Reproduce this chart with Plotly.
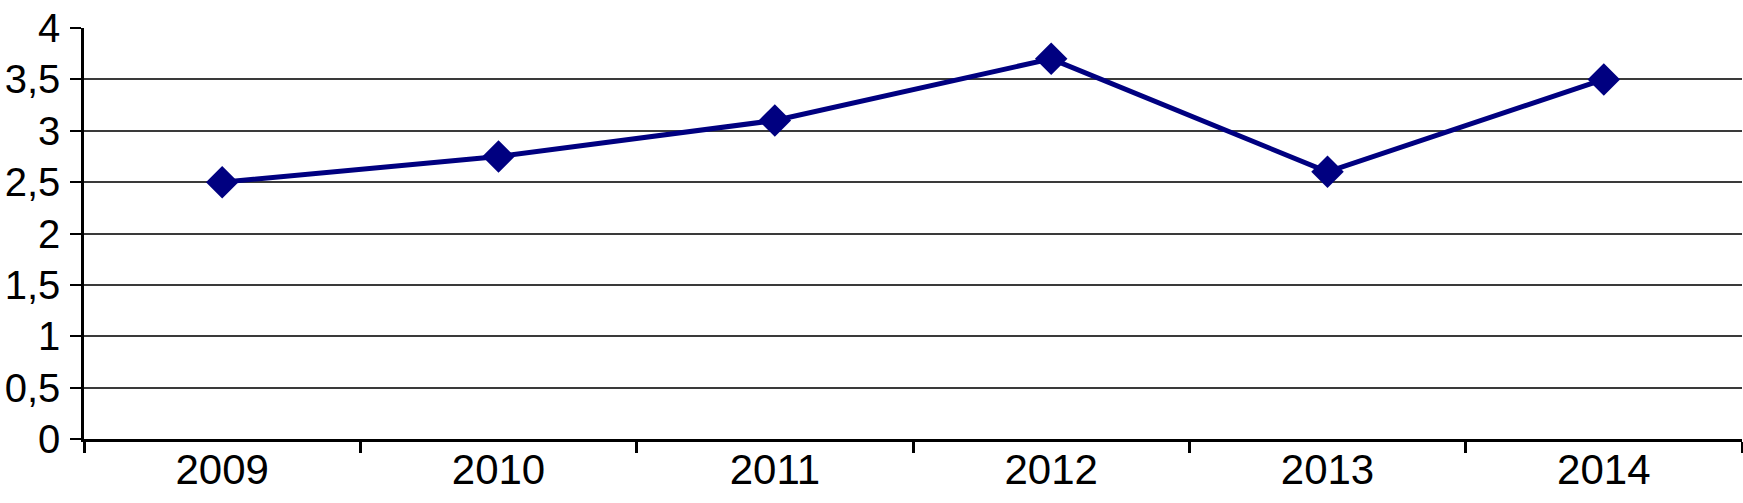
import plotly.graph_objects as go

years = ["2009", "2010", "2011", "2012", "2013", "2014"]
values = [2.5, 2.75, 3.1, 3.7, 2.6, 3.5]

navy = "#000080"
font = dict(family="Liberation Sans, Arial, sans-serif", size=42, color="black")
yfont = dict(font, size=40)

fig = go.Figure(go.Scatter(
    x=years, y=values, mode="lines+markers",
    line=dict(color=navy, width=5),
    marker=dict(symbol="diamond", size=25, color=navy),
    showlegend=False,
))

fig.update_layout(
    width=1743, height=503,
    margin=dict(l=84, r=1, t=28, b=64),
    paper_bgcolor="white", plot_bgcolor="white",
    separators=", ",
    font=font,
)
fig.update_xaxes(
    type="category", range=[-0.5, len(years) - 0.5], tickson="boundaries",
    ticks="outside", ticklen=11, tickwidth=2.5, tickcolor="black",
    showline=True, linecolor="black", linewidth=2.5, showgrid=False,
    tickfont=font, ticklabelstandoff=-8, automargin=False,
)
fig.update_yaxes(
    range=[0, 4], dtick=0.5, ticks="outside", ticklen=11, tickwidth=2,
    tickcolor="black", showline=True, linecolor="black", linewidth=2.5,
    showgrid=True, gridcolor="#3a3a3a", gridwidth=1.5,
    zeroline=True, zerolinecolor="black", zerolinewidth=2.5,
    tickfont=yfont, ticklabelstandoff=2, automargin=False,
)

# drop the page's default 8px body margin so the figure sits at 0,0
fig.write_html("out.html", config={"displayModeBar": False},
               post_script="document.body.style.margin='0';")
